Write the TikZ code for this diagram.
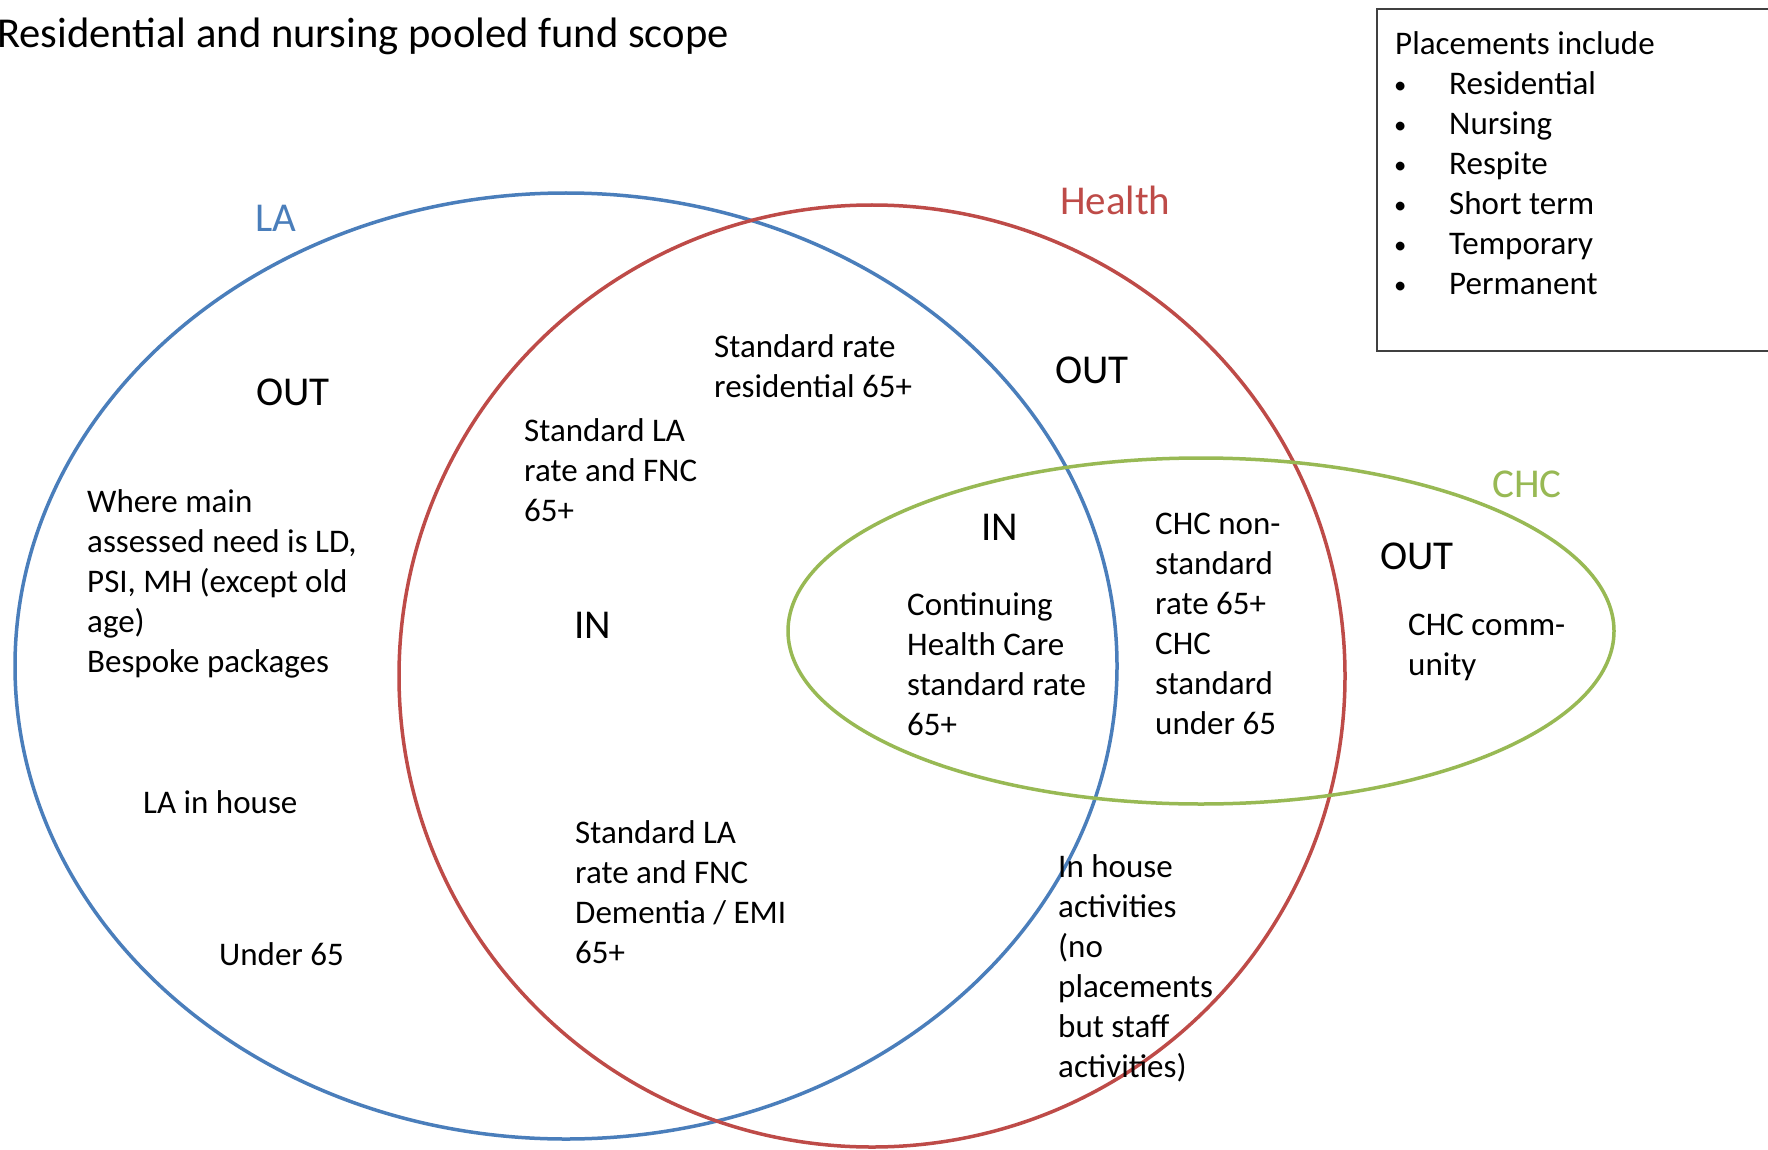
\documentclass[tikz,border=0pt]{standalone}
\usepackage{fontspec}
\usepackage{graphicx}
\setmainfont{Carlito}
\definecolor{laBlue}{HTML}{4A7EBB}
\definecolor{healthRed}{HTML}{BE4B48}
\definecolor{chcGreen}{HTML}{98B954}
\newcommand{\legendbullet}{\makebox[54pt][l]{\hspace{-1pt}\raisebox{1pt}{\scalebox{0.75}{\textbullet}}}}
\begin{document}
\begin{tikzpicture}[x=1pt,y=-1pt,
  ring/.style={line width=3.5pt},
  big/.style={font=\fontsize{41}{48}\selectfont, inner sep=0pt, anchor=base},
  body/.style={font=\fontsize{33}{40}\selectfont, inner sep=0pt, anchor=north west, align=left},
  title/.style={font=\fontsize{42.6}{50}\selectfont, inner sep=0pt, anchor=base west}
]
\useasboundingbox (0,0) rectangle (1768,1150);
\clip (0,0) rectangle (1768,1150);
\fill[white] (0,0) rectangle (1768,1150);

% title
\node[title] (title) at (-3,48) {Residential and nursing pooled fund scope};

% legend box
\draw[line width=2pt, black!75] (1377,9) rectangle (1790,351);
\node[body] (legend) at (1395,26) {\strut Placements include\\
\legendbullet Residential\\
\legendbullet Nursing\\
\legendbullet Respite\\
\legendbullet Short term\\
\legendbullet Temporary\\
\legendbullet Permanent};

% the three sets
\draw[ring, laBlue] (566,666) ellipse [x radius=551, y radius=473];
\draw[ring, healthRed] (872,676) ellipse [x radius=473, y radius=471];
\draw[ring, chcGreen] (1201,631) ellipse [x radius=413, y radius=173];

% set names
\node[big, text=laBlue] (laName) at (276,232) {LA};
\node[big, text=healthRed, anchor=base west] (healthName) at (1060,215) {Health};
\node[big, text=chcGreen, anchor=base west] (chcName) at (1492,497) {CHC};

% in / out markers
\node[big] (laOut) at (293,405) {OUT};
\node[big] (healthOut) at (1092,383) {OUT};
\node[big] (chcIn) at (1000,540) {IN};
\node[big] (midIn) at (593,638) {IN};
\node[big] (chcOut) at (1417,569) {OUT};

% region contents
\node[body] (stdRes) at (714,329) {\strut Standard rate\\residential 65+};
\node[body] (stdLA) at (524,413) {\strut Standard LA\\rate and FNC\\65+};
\node[body] (mainNeed) at (87,484) {\strut Where main\\assessed need is LD,\\PSI, MH (except old\\age)\\Bespoke packages};
\node[body] (laHouse) at (143,785) {\strut LA in house};
\node[body] (under) at (219,937) {\strut Under 65};
\node[body] (stdDem) at (575,815) {\strut Standard LA\\rate and FNC\\Dementia / EMI\\65+};
\node[body] (contCare) at (907,587) {\strut Continuing\\Health Care\\standard rate\\65+};
\node[body] (chcNon) at (1155,506) {\strut CHC non-\\standard\\rate 65+\\CHC\\standard\\under 65};
\node[body] (chcComm) at (1408,607) {\strut CHC comm-\\unity};
\node[body] (inHouse) at (1058,849) {\strut In house\\activities\\(no\\placements\\but staff\\activities)};
\end{tikzpicture}
\end{document}
